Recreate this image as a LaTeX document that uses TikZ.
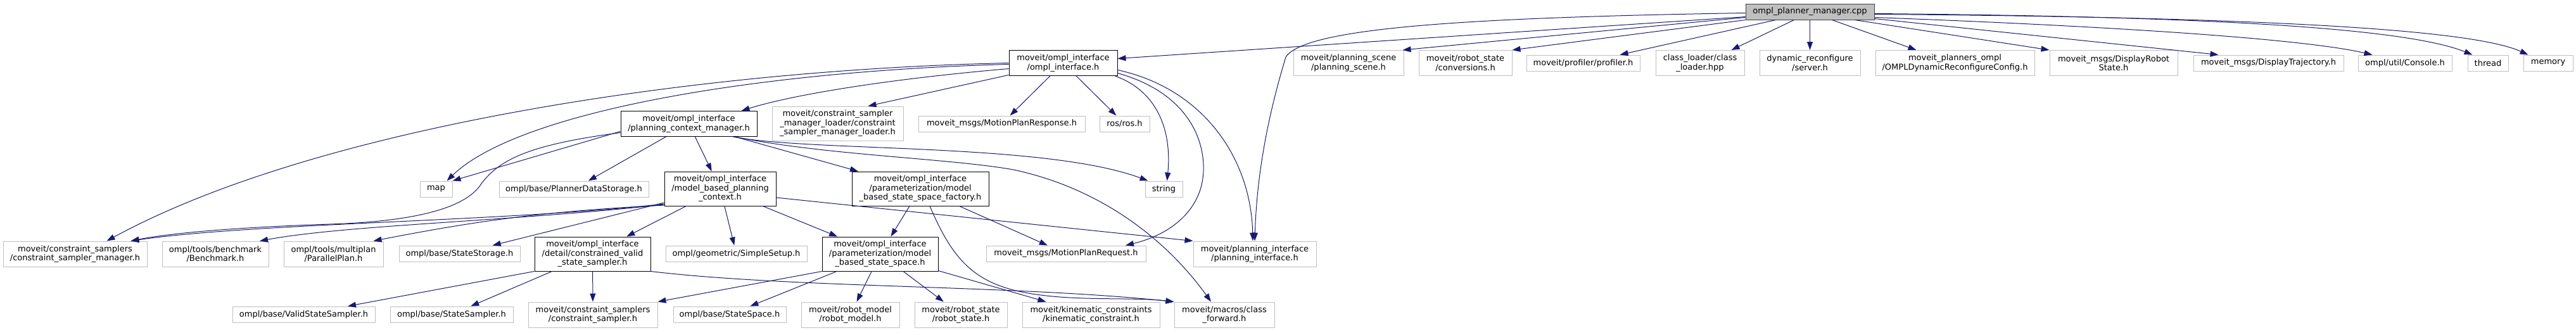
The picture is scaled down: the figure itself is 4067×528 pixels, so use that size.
\documentclass[tikz,border=0pt]{standalone}
\usepackage{fontspec}
\setmainfont{DejaVu Sans}
\usepackage{tikz}
\usetikzlibrary{arrows.meta, positioning}
\definecolor{edgeblue}{HTML}{191970}
\definecolor{grey75}{HTML}{BFBFBF}

\begin{document}
\begin{tikzpicture}[
  x=1pt, y=-1pt,
  header/.style={draw=black, line width=1pt, minimum height=25pt, inner xsep=2pt, inner ysep=0pt, align=center, font=\fontsize{13pt}{14.5pt}\selectfont},
  extheader/.style={header, draw=grey75},
  mainfile/.style={header, draw=black!75, fill=grey75},
  twolines/.style={minimum height=40pt},
  threelines/.style={minimum height=54pt},
  arrow/.style={-{Triangle[length=13pt, width=9pt]}, draw=edgeblue, line width=1pt}
]
\useasboundingbox (0,0) rectangle (4067,528);

\node[mainfile, minimum width=203pt] (root) at (2857.5,18.5) {ompl\_planner\_manager.cpp};

\node[header, twolines, minimum width=171pt] (oi) at (1678.5,99.5) {moveit/ompl\_interface\\/ompl\_interface.h};
\node[extheader, twolines, minimum width=174pt] (ps) at (2129,99.5) {moveit/planning\_scene\\/planning\_scene.h};
\node[extheader, twolines, minimum width=147pt] (conv) at (2313.5,99.5) {moveit/robot\_state\\/conversions.h};
\node[extheader, minimum width=179pt] (prof) at (2499.5,99.5) {moveit/profiler/profiler.h};
\node[extheader, twolines, minimum width=140pt] (cl) at (2684,99.5) {class\_loader/class\\\_loader.hpp};
\node[extheader, twolines, minimum width=159pt] (dr) at (2857.5,99.5) {dynamic\_reconfigure\\/server.h};
\node[extheader, twolines, minimum width=251pt] (cfg) at (3086.5,99.5) {moveit\_planners\_ompl\\/OMPLDynamicReconfigureConfig.h};
\node[extheader, twolines, minimum width=202pt] (drs) at (3337,99.5) {moveit\_msgs/DisplayRobot\\State.h};
\node[extheader, minimum width=237pt] (dtraj) at (3581.5,99.5) {moveit\_msgs/DisplayTrajectory.h};
\node[extheader, minimum width=148pt] (console) at (3797,99.5) {ompl/util/Console.h};
\node[extheader, minimum width=64pt] (thread) at (3928,99.5) {thread};
\node[extheader, minimum width=78pt] (memory) at (4023,99.5) {memory};

\node[header, twolines, minimum width=215pt] (pcm) at (1087.5,195.5) {moveit/ompl\_interface\\/planning\_context\_manager.h};
\node[extheader, threelines, minimum width=207pt] (cssml) at (1322.5,195) {moveit/constraint\_sampler\\\_manager\_loader/constraint\\\_sampler\_manager\_loader.h};
\node[extheader, minimum width=263pt] (mpresp) at (1581.5,195.5) {moveit\_msgs/MotionPlanResponse.h};
\node[extheader, minimum width=79pt] (ros) at (1775.5,195.5) {ros/ros.h};

\node[extheader, minimum width=51pt] (map) at (688.5,298.5) {map};
\node[extheader, minimum width=236pt] (pds) at (906,298.5) {ompl/base/PlannerDataStorage.h};
\node[header, threelines, minimum width=176pt] (mbpc) at (1137,298) {moveit/ompl\_interface\\/model\_based\_planning\\\_context.h};
\node[header, threelines, minimum width=216pt] (mbssf) at (1453,298) {moveit/ompl\_interface\\/parameterization/model\\\_based\_state\_space\_factory.h};
\node[extheader, minimum width=59pt] (string) at (1837.5,298.5) {string};

\node[extheader, twolines, minimum width=227pt] (csm) at (118.5,401) {moveit/constraint\_samplers\\/constraint\_sampler\_manager.h};
\node[extheader, twolines, minimum width=168pt] (bench) at (340,401) {ompl/tools/benchmark\\/Benchmark.h};
\node[extheader, twolines, minimum width=157pt] (pplan) at (526.5,401) {ompl/tools/multiplan\\/ParallelPlan.h};
\node[extheader, minimum width=191pt] (sstore) at (725.5,400.5) {ompl/base/StateStorage.h};
\node[header, threelines, minimum width=183pt] (cvss) at (935.5,401) {moveit/ompl\_interface\\/detail/constrained\_valid\\\_state\_sampler.h};
\node[extheader, minimum width=223pt] (simple) at (1162.5,400.5) {ompl/geometric/SimpleSetup.h};
\node[header, threelines, minimum width=183pt] (mbss) at (1389.5,401) {moveit/ompl\_interface\\/parameterization/model\\\_based\_state\_space.h};
\node[extheader, minimum width=252pt] (mpreq) at (1683,400.5) {moveit\_msgs/MotionPlanRequest.h};
\node[extheader, twolines, minimum width=194pt] (planif) at (1981,401) {moveit/planning\_interface\\/planning\_interface.h};

\node[extheader, minimum width=225pt] (vss) at (479.5,496.5) {ompl/base/ValidStateSampler.h};
\node[extheader, minimum width=194pt] (ssamp) at (713,496.5) {ompl/base/StateSampler.h};
\node[extheader, twolines, minimum width=204pt] (cs) at (936,497) {moveit/constraint\_samplers\\/constraint\_sampler.h};
\node[extheader, minimum width=178pt] (sspace) at (1152,496.5) {ompl/base/StateSpace.h};
\node[extheader, twolines, minimum width=155pt] (rmodel) at (1342.5,497) {moveit/robot\_model\\/robot\_model.h};
\node[extheader, twolines, minimum width=146pt] (rstate) at (1517,497) {moveit/robot\_state\\/robot\_state.h};
\node[extheader, twolines, minimum width=217pt] (kin) at (1722.5,497) {moveit/kinematic\_constraints\\/kinematic\_constraint.h};
\node[extheader, twolines, minimum width=158pt] (cfwd) at (1933,497) {moveit/macros/class\\\_forward.h};

\draw[arrow] ([yshift=-8pt]root.west) -- ([yshift=7pt]oi.east);
\draw[arrow] ([yshift=-2pt]root.west) .. controls (2300,28) and (2060,45) .. (2030,90) .. controls (2012,150) and (1985,250) .. (planif.north);
\draw[arrow] ([yshift=-9pt]root.west) -- ([xshift=-2pt]ps.north east);
\draw[arrow] (root.south west) -- (conv.north east);
\draw[arrow] ([xshift=48pt]root.south west) -- ([xshift=-32pt]prof.north east);
\draw[arrow] ([xshift=-25pt]root.south) -- ([xshift=-21pt]cl.north east);
\draw[arrow] (root) -- (dr);
\draw[arrow] ([xshift=35pt]root.south) -- ([xshift=-61pt]cfg.north);
\draw[arrow] ([xshift=-31pt]root.south east) -- (drs.north west);
\draw[arrow] ([yshift=-11pt]root.east) -- ([xshift=40pt]dtraj.north west);
\draw[arrow] ([yshift=-9pt]root.east) .. controls (3350,42) and (3640,62) .. ([xshift=23pt]console.north west);
\draw[arrow] ([yshift=-3pt]root.east) .. controls (3500,26) and (3800,45) .. ([xshift=8pt]thread.north west);
\draw[arrow] ([yshift=-4pt]root.east) .. controls (3550,27) and (3900,45) .. ([xshift=8pt]memory.north west);

\draw[arrow] (oi.west) .. controls (1100,110) and (500,200) .. ([xshift=50pt]csm.north);
\draw[arrow] ([yshift=-2pt]oi.west) .. controls (1200,112) and (820,175) .. ([xshift=-9pt]map.north east);
\draw[arrow] ([yshift=-9pt]oi.west) .. controls (1400,125) and (1250,150) .. ([xshift=-25pt]pcm.north east);
\draw[arrow] (oi) -- ([xshift=-56pt]cssml.north east);
\draw[arrow] (oi) -- (mpresp);
\draw[arrow] (oi) -- (ros);
\draw[arrow] ([xshift=-4pt]oi.south east) .. controls (1830,145) and (1850,210) .. ([xshift=5pt]string.north);
\draw[arrow] ([yshift=-16pt]oi.east) .. controls (1870,145) and (1902,215) .. (1900,270) .. controls (1898,330) and (1850,370) .. ([xshift=94pt]mpreq.north);
\draw[arrow] ([yshift=-11pt]oi.east) .. controls (1900,140) and (1975,250) .. ([xshift=-3pt]planif.north);

\draw[arrow] ([yshift=-12pt]pcm.west) -- (map.north east);
\draw[arrow] ([yshift=-14pt]pcm.west) .. controls (840,228) and (790,250) .. (760,290) .. controls (735,330) and (650,350) .. (520,354) .. controls (400,358) and (280,366) .. ([xshift=88pt]csm.north);
\draw[arrow] (pcm) -- (pds);
\draw[arrow] (pcm) -- (mbpc);
\draw[arrow] (pcm) -- (mbssf);
\draw[arrow] ([xshift=70pt]pcm.south) .. controls (1280,240) and (1650,225) .. ([xshift=-25pt]string.north);
\draw[arrow] ([xshift=73pt]pcm.south) .. controls (1300,245) and (1500,250) .. (1600,268) .. controls (1750,300) and (1850,390) .. ([xshift=-21pt]cfwd.north);

\draw[arrow] ([yshift=-24pt]mbpc.west) .. controls (800,350) and (400,352) .. ([xshift=88pt]csm.north);
\draw[arrow] ([yshift=-25pt]mbpc.west) .. controls (800,350) and (550,355) .. ([xshift=70pt]bench.north);
\draw[arrow] ([yshift=-26pt]mbpc.west) to[bend right=4] ([xshift=63pt]pplan.north);
\draw[arrow] (mbpc) -- (sstore);
\draw[arrow] (mbpc) -- (cvss);
\draw[arrow] (mbpc) -- (simple);
\draw[arrow] (mbpc) -- (mbss);
\draw[arrow] ([yshift=-14pt]mbpc.east) -- (planif.north west);

\draw[arrow] (mbssf) -- (mbss);
\draw[arrow] (mbssf) -- (mpreq);
\draw[arrow] ([xshift=15pt]mbssf.south) .. controls (1500,400) and (1530,440) .. (1600,458) .. controls (1680,478) and (1780,468) .. (cfwd.north west);

\draw[arrow] (mbss.south west) -- (cs.north east);
\draw[arrow] (mbss) -- (sspace);
\draw[arrow] (mbss) -- (rmodel);
\draw[arrow] (mbss) -- (rstate);
\draw[arrow] (mbss) -- (kin);

\draw[arrow] (cvss.south west) -- (vss);
\draw[arrow] (cvss) -- (ssamp);
\draw[arrow] (cvss) -- (cs);
\draw[arrow] (cvss.south east) .. controls (1250,455) and (1600,450) .. (cfwd.north west);

\end{tikzpicture}
\end{document}
